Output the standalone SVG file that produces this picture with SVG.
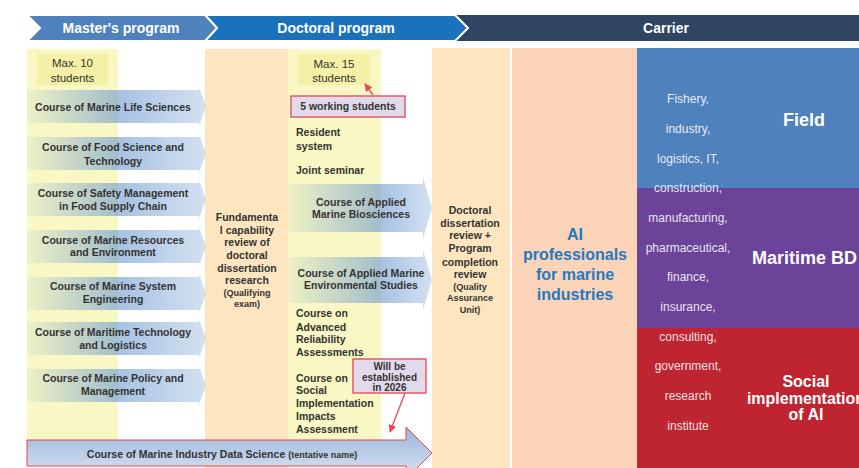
<svg xmlns="http://www.w3.org/2000/svg" width="859" height="468" viewBox="0 0 859 468">
<defs>
  <linearGradient id="gM" x1="0" y1="0" x2="1" y2="0">
    <stop offset="0" stop-color="#6E9BD0" stop-opacity="0.08"/>
    <stop offset="0.5" stop-color="#6E9BD0" stop-opacity="0.62"/>
    <stop offset="1" stop-color="#6E9BD0" stop-opacity="0.3"/>
  </linearGradient>
  <linearGradient id="gD" x1="0" y1="0" x2="1" y2="0">
    <stop offset="0" stop-color="#6E9BD0" stop-opacity="0.08"/>
    <stop offset="0.64" stop-color="#6E9BD0" stop-opacity="0.62"/>
    <stop offset="1" stop-color="#6E9BD0" stop-opacity="0.3"/>
  </linearGradient>
  <linearGradient id="gDS" x1="0" y1="0" x2="0" y2="1">
    <stop offset="0" stop-color="#98B4DA"/>
    <stop offset="1" stop-color="#DCE6F3"/>
  </linearGradient>
  <marker id="ah" viewBox="0 0 10 10" refX="9" refY="5" markerWidth="6" markerHeight="6" orient="auto-start-reverse">
    <path d="M0,0 L10,5 L0,10 z" fill="#E8474F"/>
  </marker>
  <style>
    text { font-family: "Liberation Sans", Arial, sans-serif; }
    .b { font-weight: bold; fill: #333; font-size: 10.5px; }
    .c { text-anchor: middle; }
    .sm { font-size: 9px; }
    .mx { font-size: 11.5px; fill: #333; text-anchor: middle; }
    .ban { font-weight: bold; font-size: 14px; fill: #fff; text-anchor: middle; }
    .w { font-size: 12px; fill: #fff; fill-opacity: 0.88; text-anchor: middle; }
    .big { font-weight: bold; font-size: 18px; fill: #fff; }
    .note { fill: #E2DAEB; stroke: #E85A66; stroke-width: 1.5; }
    .conn { stroke: #E8474F; stroke-width: 1.3; fill: none; marker-end: url(#ah); }
  </style>
</defs>

<!-- banner -->
<g id="banner">
  <rect x="440" y="15" width="419" height="26" fill="#2F4562"/>
  <polygon points="205,15 455,15 468,28 455,41 205,41 217,28" fill="#1B72BC" stroke="#fff" stroke-width="2"/>
  <polygon points="27,15 205,15 217,28 205,41 27,41 40,28" fill="#4F81BD" stroke="#fff" stroke-width="2"/>
  <text class="ban" x="121" y="33">Master's program</text>
  <text class="ban" x="336" y="33">Doctoral program</text>
  <text class="ban" x="666" y="33">Carrier</text>
</g>

<!-- columns -->
<g id="columns">
  <rect x="27" y="49" width="91" height="391" fill="#F9F8C4"/>
  <rect x="205" y="49" width="83" height="419" fill="#FDE6BF"/>
  <rect x="288" y="49" width="93" height="391" fill="#F9F8C4"/>
  <rect x="432" y="48" width="78" height="420" fill="#FDE6BF"/>
  <rect x="512" y="48" width="125" height="420" fill="#FBD3B9"/>
</g>

<g id="max10">
  <rect x="37" y="54" width="71" height="31" fill="#F4F0A6"/>
  <text class="mx" x="72.5" y="67">Max. 10</text>
  <text class="mx" x="72.5" y="82">students</text>
</g>
<g id="max15">
  <rect x="298" y="54" width="72" height="31" fill="#F4F0A6"/>
  <text class="mx" x="334" y="68">Max. 15</text>
  <text class="mx" x="334" y="82">students</text>
</g>

<!-- master courses -->
<g id="course-life">
  <polygon points="27,90 199,90 199,87 206,106.5 199,126 199,123 27,123" fill="url(#gM)"/>
  <text class="b c" x="113" y="111">Course of Marine Life Sciences</text>
</g>
<g id="course-food">
  <polygon points="27,137 199,137 199,134 206,153.5 199,173 199,170 27,170" fill="url(#gM)"/>
  <text class="b c" x="113" y="151">Course of Food Science and</text>
  <text class="b c" x="113" y="164.5">Technology</text>
</g>
<g id="course-safety">
  <polygon points="27,183 199,183 199,180 206,199.5 199,219 199,216 27,216" fill="url(#gM)"/>
  <text class="b c" x="113" y="197">Course of Safety Management</text>
  <text class="b c" x="113" y="210">in Food Supply Chain</text>
</g>
<g id="course-resources">
  <polygon points="27,230 199,230 199,227 206,246.5 199,266 199,263 27,263" fill="url(#gM)"/>
  <text class="b c" x="113" y="244">Course of Marine Resources</text>
  <text class="b c" x="113" y="256">and Environment</text>
</g>
<g id="course-system">
  <polygon points="27,277 199,277 199,274 206,293.5 199,313 199,310 27,310" fill="url(#gM)"/>
  <text class="b c" x="113" y="290">Course of Marine System</text>
  <text class="b c" x="113" y="303">Engineering</text>
</g>
<g id="course-maritime">
  <polygon points="27,322 199,322 199,319 206,338.5 199,358 199,355 27,355" fill="url(#gM)"/>
  <text class="b c" x="113" y="336">Course of Maritime Technology</text>
  <text class="b c" x="113" y="349">and Logistics</text>
</g>
<g id="course-policy">
  <polygon points="27,369 199,369 199,366 206,385.5 199,405 199,402 27,402" fill="url(#gM)"/>
  <text class="b c" x="113" y="382">Course of Marine Policy and</text>
  <text class="b c" x="113" y="395">Management</text>
</g>

<!-- fundamental review -->
<g id="fundamental">
  <text class="b c" x="247" y="221">Fundamenta</text>
  <text class="b c" x="247" y="233.5">l capability</text>
  <text class="b c" x="247" y="246">review of</text>
  <text class="b c" x="247" y="259">doctoral</text>
  <text class="b c" x="247" y="271.5">dissertation</text>
  <text class="b c" x="247" y="284">research</text>
  <text class="b c sm" x="247" y="296">(Qualifying</text>
  <text class="b c sm" x="247" y="307">exam)</text>
</g>

<!-- doctoral column -->
<g id="working">
  <rect class="note" x="291" y="96" width="114" height="21"/>
  <text class="b c" x="348" y="110">5 working students</text>
</g>
<g id="resident">
  <text class="b" x="296" y="136">Resident</text>
  <text class="b" x="296" y="150">system</text>
</g>
<g id="seminar">
  <text class="b" x="296" y="174">Joint seminar</text>
</g>
<g id="course-biosciences">
  <polygon points="288,184 423,184 423,177 432,208 423,239 423,232 288,232" fill="url(#gD)"/>
  <text class="b c" x="361" y="205.5">Course of Applied</text>
  <text class="b c" x="361" y="218">Marine Biosciences</text>
</g>
<g id="course-environmental">
  <polygon points="288,257 423,257 423,250 432,280 423,310 423,303 288,303" fill="url(#gD)"/>
  <text class="b c" x="361" y="277">Course of Applied Marine</text>
  <text class="b c" x="361" y="289">Environmental Studies</text>
</g>
<g id="course-reliability">
  <text class="b" x="296" y="317">Course on</text>
  <text class="b" x="296" y="330.5">Advanced</text>
  <text class="b" x="296" y="343">Reliability</text>
  <text class="b" x="296" y="355.5">Assessments</text>
</g>
<g id="course-social">
  <text class="b" x="296" y="381.5">Course on</text>
  <text class="b" x="296" y="394">Social</text>
  <text class="b" x="296" y="407">Implementation</text>
  <text class="b" x="296" y="420">Impacts</text>
  <text class="b" x="296" y="433">Assessment</text>
</g>
<g id="established">
  <rect class="note" x="353" y="359" width="73" height="34"/>
  <text class="b c" x="389.5" y="369.5" style="font-size:10px">Will be</text>
  <text class="b c" x="389.5" y="380.5" style="font-size:10px">established</text>
  <text class="b c" x="389.5" y="391" style="font-size:10px">in 2026</text>
</g>

<!-- data science -->
<g id="course-datascience">
  <polygon points="27,440 406,440 406,427 432,453 406,479 406,466 27,466" fill="url(#gDS)" stroke="#E8474F" stroke-width="1"/>
  <text class="b c" x="222" y="457.5">Course of Marine Industry Data Science <tspan style="font-size:9px">(tentative name)</tspan></text>
</g>

<!-- dissertation review -->
<g id="dissertation-review">
  <text class="b c" x="470" y="214">Doctoral</text>
  <text class="b c" x="470" y="227">dissertation</text>
  <text class="b c" x="470" y="239">review +</text>
  <text class="b c" x="470" y="252">Program</text>
  <text class="b c" x="470" y="265.5">completion</text>
  <text class="b c" x="470" y="278">review</text>
  <text class="b c sm" x="470" y="289.5">(Quality</text>
  <text class="b c sm" x="470" y="300.5">Assurance</text>
  <text class="b c sm" x="470" y="312.5">Unit)</text>
</g>

<g id="ai-professionals">
  <text x="575" y="240" text-anchor="middle" font-weight="bold" font-size="16" fill="#1F7AC0">AI</text>
  <text x="575" y="260" text-anchor="middle" font-weight="bold" font-size="16" fill="#1F7AC0">professionals</text>
  <text x="575" y="280" text-anchor="middle" font-weight="bold" font-size="16" fill="#1F7AC0">for marine</text>
  <text x="575" y="300" text-anchor="middle" font-weight="bold" font-size="16" fill="#1F7AC0">industries</text>
</g>

<!-- career fields -->
<g id="field">
  <rect x="637" y="48" width="222" height="140" fill="#4F81BD"/>
  <text class="big" x="804" y="126" text-anchor="middle">Field</text>
</g>
<g id="maritime-bd">
  <rect x="637" y="188" width="222" height="140" fill="#6B449A"/>
  <text class="big" x="752" y="264">Maritime BD</text>
</g>
<g id="social-ai">
  <rect x="637" y="328" width="222" height="140" fill="#BE2530"/>
  <text class="big c" x="806" y="387" style="font-size:16px">Social</text>
  <text class="big c" x="806" y="403.5" style="font-size:16px">implementation</text>
  <text class="big c" x="806" y="420" style="font-size:16px">of AI</text>
</g>
<g id="industries">
  <text class="w" x="688" y="103">Fishery,</text>
  <text class="w" x="688" y="133">industry,</text>
  <text class="w" x="688" y="162.5">logistics, IT,</text>
  <text class="w" x="688" y="192">construction,</text>
  <text class="w" x="688" y="222">manufacturing,</text>
  <text class="w" x="688" y="252">pharmaceutical,</text>
  <text class="w" x="688" y="281">finance,</text>
  <text class="w" x="688" y="311">insurance,</text>
  <text class="w" x="688" y="341">consulting,</text>
  <text class="w" x="688" y="370">government,</text>
  <text class="w" x="688" y="400">research</text>
  <text class="w" x="688" y="430">institute</text>
</g>

<!-- connectors -->
<g id="connectors">
  <line class="conn" x1="373" y1="95" x2="365" y2="84"/>
  <line class="conn" x1="405" y1="393" x2="390" y2="432"/>
</g>
</svg>
